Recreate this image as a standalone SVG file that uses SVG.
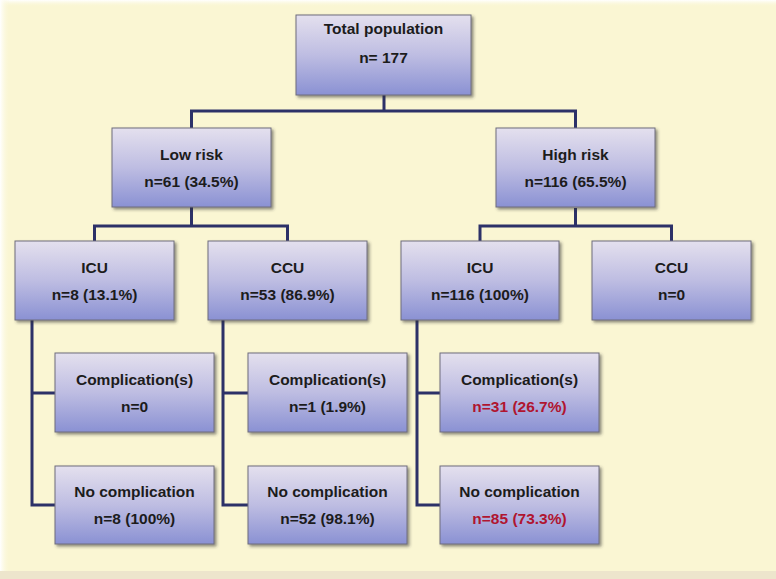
<svg xmlns="http://www.w3.org/2000/svg" width="776" height="579" viewBox="0 0 776 579">
<defs>
<linearGradient id="boxg" x1="0" y1="0" x2="0" y2="1">
<stop offset="0" stop-color="#e4e0ee"/>
<stop offset="0.5" stop-color="#bebde2"/>
<stop offset="1" stop-color="#8a91d3"/>
</linearGradient>
<linearGradient id="topfade" x1="0" y1="0" x2="0" y2="1">
<stop offset="0" stop-color="#ffffff"/>
<stop offset="1" stop-color="#faf6d3" stop-opacity="0"/>
</linearGradient>
<linearGradient id="leftfade" x1="0" y1="0" x2="1" y2="0">
<stop offset="0" stop-color="#ffffff"/>
<stop offset="1" stop-color="#faf6d3" stop-opacity="0"/>
</linearGradient>
<filter id="sh" x="-10%" y="-10%" width="130%" height="130%">
<feDropShadow dx="2" dy="2" stdDeviation="1.5" flood-color="#333" flood-opacity="0.55"/>
</filter>
</defs>
<style>
.box{fill:url(#boxg);stroke:#6e6d7c;stroke-width:1;filter:url(#sh)}
.t{font-family:"Liberation Sans",Arial,sans-serif;font-weight:bold;font-size:15.5px;fill:#1c1c1c;text-anchor:middle}
.r{fill:#b01530}
.c{fill:none;stroke:#2c3168;stroke-width:3}
</style>
<rect x="0" y="0" width="776" height="579" fill="#faf6d3"/>
<rect x="0" y="0" width="776" height="7" fill="url(#topfade)"/>
<rect x="0" y="0" width="10" height="579" fill="url(#leftfade)"/>
<rect x="0" y="571" width="776" height="8" fill="#ede5cc"/>
<g id="connectors">
<path class="c" d="M384 95 V111 M191.5 128 V111 H575.5 V128"/>
<path class="c" d="M191.5 207 V226 M94.5 241 V226 H287.5 V241"/>
<path class="c" d="M575.5 208 V226 M480 241 V226 H671.5 V241"/>
<path class="c" d="M32 320 V505 H55 M32 393 H55"/>
<path class="c" d="M223 320 V505 H248 M223 393 H248"/>
<path class="c" d="M417 320 V505 H440 M417 393 H440"/>
</g>
<g id="total">
<rect class="box" x="296" y="15" width="175" height="80"/>
<text class="t" x="383.5" y="34">Total population</text>
<text class="t" x="383.5" y="63">n= 177</text>
</g>
<g id="lowrisk">
<rect class="box" x="112" y="128" width="159" height="79"/>
<text class="t" x="191.5" y="160">Low risk</text>
<text class="t" x="191.5" y="187">n=61 (34.5%)</text>
</g>
<g id="highrisk">
<rect class="box" x="496" y="128" width="159" height="79"/>
<text class="t" x="575.5" y="160">High risk</text>
<text class="t" x="575.5" y="187">n=116 (65.5%)</text>
</g>
<g id="icu-low">
<rect class="box" x="15" y="241" width="159" height="79"/>
<text class="t" x="94.5" y="273">ICU</text>
<text class="t" x="94.5" y="300">n=8 (13.1%)</text>
</g>
<g id="ccu-low">
<rect class="box" x="208" y="241" width="159" height="79"/>
<text class="t" x="287.5" y="273">CCU</text>
<text class="t" x="287.5" y="300">n=53 (86.9%)</text>
</g>
<g id="icu-high">
<rect class="box" x="401" y="241" width="158" height="79"/>
<text class="t" x="480" y="273">ICU</text>
<text class="t" x="480" y="300">n=116 (100%)</text>
</g>
<g id="ccu-high">
<rect class="box" x="592" y="241" width="159" height="79"/>
<text class="t" x="671.5" y="273">CCU</text>
<text class="t" x="671.5" y="300">n=0</text>
</g>
<g id="comp-icu-low">
<rect class="box" x="55" y="353" width="159" height="79"/>
<text class="t" x="134.5" y="385">Complication(s)</text>
<text class="t" x="134.5" y="412">n=0</text>
</g>
<g id="nocomp-icu-low">
<rect class="box" x="55" y="466" width="159" height="78"/>
<text class="t" x="134.5" y="497">No complication</text>
<text class="t" x="134.5" y="524">n=8 (100%)</text>
</g>
<g id="comp-ccu-low">
<rect class="box" x="248" y="353" width="159" height="79"/>
<text class="t" x="327.5" y="385">Complication(s)</text>
<text class="t" x="327.5" y="412">n=1 (1.9%)</text>
</g>
<g id="nocomp-ccu-low">
<rect class="box" x="248" y="466" width="159" height="78"/>
<text class="t" x="327.5" y="497">No complication</text>
<text class="t" x="327.5" y="524">n=52 (98.1%)</text>
</g>
<g id="comp-icu-high">
<rect class="box" x="440" y="353" width="159" height="79"/>
<text class="t" x="519.5" y="385">Complication(s)</text>
<text class="t r" x="519.5" y="412">n=31 (26.7%)</text>
</g>
<g id="nocomp-icu-high">
<rect class="box" x="440" y="466" width="159" height="78"/>
<text class="t" x="519.5" y="497">No complication</text>
<text class="t r" x="519.5" y="524">n=85 (73.3%)</text>
</g>
</svg>
